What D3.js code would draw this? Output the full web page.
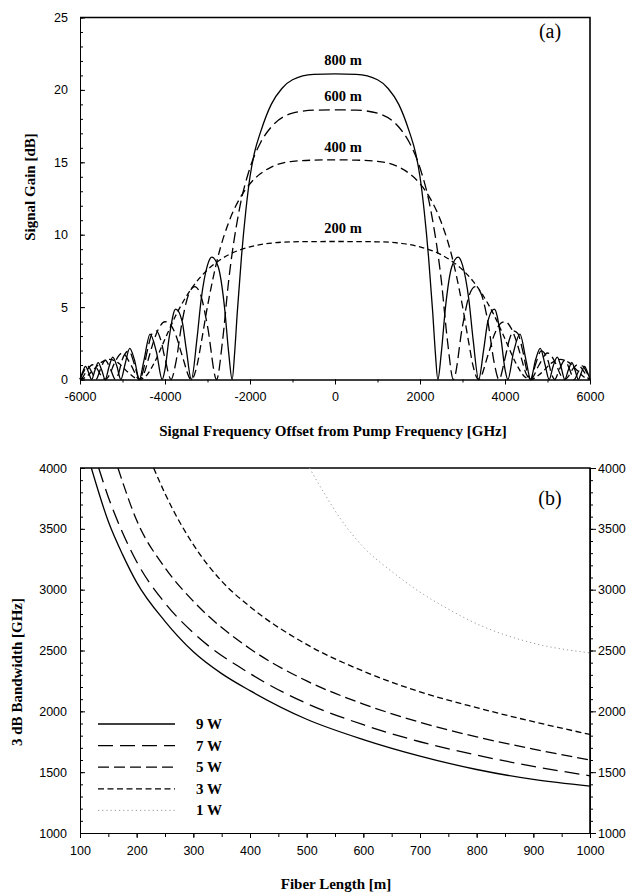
<!DOCTYPE html>
<html>
<head>
<meta charset="utf-8">
<script src="https://cdn.jsdelivr.net/npm/d3@7"></script>
<style>
body { margin: 0; background: #fff; }
</style>
</head>
<body>
<svg id="chart" width="633" height="895"></svg>
<script>
// ---- panel (a): signal gain [dB] vs. frequency offset [GHz]
const gain800 = [[-6000,0.02],[-5940,0.5],[-5870,0.9],[-5800,0.5],[-5726,0],[-5650,0.62],[-5572,1.16],[-5490,0.65],[-5407,0],
  [-5320,0.85],[-5230,1.55],[-5130,0.9],[-5039,0],[-4940,1.05],[-4830,2.15],[-4720,1.37],[-4602,0],[-4500,1.25],[-4350,3.13],
  [-4200,1.87],[-4067,0],[-4000,0.7],[-3900,2.94],[-3750,4.86],[-3600,4.06],[-3500,2.1],[-3380,0],[-3250,2.75],[-3150,5.5],
  [-3000,7.9],[-2900,8.45],[-2750,7.8],[-2600,5.0],[-2500,1.8],[-2420,0],[-2360,1.9],[-2300,4.6],[-2200,8.5],[-2100,11.6],
  [-2000,14.0],[-1900,15.6],[-1750,17.1],[-1500,19.0],[-1250,20.1],[-1000,20.7],[-500,21.07],[0,21.1],
  [500,21.07],[1000,20.7],[1250,20.1],[1500,19.0],[1750,17.1],[1900,15.6],[2000,14.0],[2100,11.6],[2200,8.5],[2300,4.6],
  [2360,1.9],[2420,0],[2500,1.8],[2600,5.0],[2750,7.8],[2900,8.45],[3000,7.9],[3150,5.5],[3250,2.75],[3380,0],[3500,2.1],
  [3600,4.06],[3750,4.86],[3900,2.94],[4000,0.7],[4067,0],[4200,1.87],[4350,3.13],[4500,1.25],[4602,0],[4720,1.37],
  [4830,2.15],[4940,1.05],[5039,0],[5130,0.9],[5230,1.55],[5320,0.85],[5407,0],[5490,0.65],[5572,1.16],[5650,0.62],
  [5726,0],[5800,0.5],[5870,0.9],[5940,0.5],[6000,0.02]];

const gain600 = [[-6000,0.02],[-5920,0.5],[-5823,0.94],[-5720,0.5],[-5625,0],[-5520,0.7],[-5407,1.33],[-5280,0.7],[-5168,0],
  [-5100,0.34],[-5000,1.42],[-4850,1.98],[-4720,1.05],[-4602,0],[-4520,0.53],[-4420,1.94],[-4300,3.18],[-4200,3.36],
  [-4100,2.73],[-4000,1.46],[-3858,0],[-3750,1.09],[-3600,3.94],[-3450,5.83],[-3300,6.42],[-3150,5.74],[-3000,3.69],
  [-2785,0],[-2650,2.57],[-2500,6.88],[-2250,11.75],[-2000,14.62],[-1750,16.37],[-1500,17.44],[-1000,18.39],[-500,18.6],
  [0,18.62],[500,18.6],[1000,18.39],[1500,17.44],[1750,16.37],[2000,14.62],[2250,11.75],[2500,6.88],[2650,2.57],[2785,0],
  [3000,3.69],[3150,5.74],[3300,6.42],[3450,5.83],[3600,3.94],[3750,1.09],[3858,0],[4000,1.46],[4100,2.73],[4200,3.36],
  [4300,3.18],[4420,1.94],[4520,0.53],[4602,0],[4720,1.05],[4850,1.98],[5000,1.42],[5100,0.34],[5168,0],[5280,0.7],
  [5407,1.33],[5520,0.7],[5625,0],[5720,0.5],[5823,0.94],[5920,0.5],[6000,0.02]];

const gain400 = [[-6000,0.02],[-5950,0.1],[-5850,0.58],[-5700,1.02],[-5600,0.75],[-5500,0.25],[-5407,0],[-5300,0.36],
  [-5200,1.06],[-5000,1.83],[-4800,1.0],[-4602,0],[-4500,0.38],[-4350,1.84],[-4250,2.8],[-4150,3.51],[-4000,3.99],
  [-3900,3.88],[-3750,3.11],[-3600,1.69],[-3380,0],[-3250,0.92],[-3150,2.5],[-3000,5.06],[-2750,8.51],[-2500,10.86],
  [-2250,12.46],[-2000,13.52],[-1750,14.22],[-1500,14.67],[-1000,15.07],[-500,15.15],[0,15.17],
  [500,15.15],[1000,15.07],[1500,14.67],[1750,14.22],[2000,13.52],[2250,12.46],[2500,10.86],[2750,8.51],[3000,5.06],
  [3150,2.5],[3250,0.92],[3380,0],[3600,1.69],[3750,3.11],[3900,3.88],[4000,3.99],[4150,3.51],[4250,2.8],[4350,1.84],
  [4500,0.38],[4602,0],[4800,1.0],[5000,1.83],[5200,1.06],[5300,0.36],[5407,0],[5500,0.25],[5600,0.75],[5700,1.02],
  [5850,0.58],[5950,0.1],[6000,0.02]];

const gain200 = [[-6000,0],[-5850,0.19],[-5700,0.62],[-5500,1.18],[-5300,1.39],[-5100,1.15],[-4850,0.44],[-4602,0],
  [-4450,0.23],[-4250,1.16],[-4000,2.8],[-3750,4.4],[-3500,5.73],[-3250,6.78],[-3000,7.58],[-2750,8.17],[-2500,8.62],
  [-2000,9.16],[-1500,9.42],[-1000,9.51],[0,9.53],[1000,9.51],[1500,9.42],[2000,9.16],[2500,8.62],[2750,8.17],
  [3000,7.58],[3250,6.78],[3500,5.73],[3750,4.4],[4000,2.8],[4250,1.16],[4450,0.23],[4602,0],[4850,0.44],[5100,1.15],
  [5300,1.39],[5500,1.18],[5700,0.62],[5850,0.19],[6000,0]];

const lengthNames = ["800 m", "600 m", "400 m", "200 m"];
const lengthLabelGain = [21.7, 19.2, 15.7, 10.1];
const offsetTicks = [-6000, -4000, -2000, 0, 2000, 4000, 6000];
const gainTicks = [0, 5, 10, 15, 20, 25];

// ---- panel (b): 3 dB bandwidth [GHz] vs. fiber length [m]
const bw9W = [[120,4000],[150,3560],[175,3290],[200,3060],[250,2740],[300,2490],[350,2310],[400,2170],[500,1935],
  [600,1768],[700,1632],[800,1522],[900,1440],[1000,1385]];
const bw7W = [[133,4000],[150,3760],[175,3470],[200,3230],[250,2890],[300,2645],[400,2310],[500,2065],[600,1890],
  [700,1750],[800,1640],[900,1548],[1000,1470]];
const bw5W = [[167,4000],[200,3570],[250,3180],[300,2905],[400,2515],[500,2250],[600,2060],[700,1910],[800,1790],
  [900,1690],[1000,1600]];
const bw3W = [[230,4000],[250,3790],[300,3370],[350,3070],[400,2860],[500,2550],[600,2330],[700,2160],[800,2030],
  [900,1915],[1000,1810]];
const bw1W = [[505,4000],[530,3800],[560,3580],[600,3350],[650,3150],[700,2980],[750,2840],[800,2720],[900,2560],
  [1000,2480]];

const powerNames = ["9 W", "7 W", "5 W", "3 W", "1 W"];
const lengthTicks = [100, 200, 300, 400, 500, 600, 700, 800, 900, 1000];
const bandwidthTicks = [1000, 1500, 2000, 2500, 3000, 3500, 4000];

const sansFont = "'Liberation Sans', Arial, sans-serif";
const serifFont = "'Liberation Serif', 'Times New Roman', serif";

const svg = d3.select("#chart");
svg.append("rect").attr("width", 633).attr("height", 895).attr("fill", "#fff");

function styleTicks(g) {
  g.selectAll("text").attr("font-family", sansFont).attr("font-size", 12.5).attr("fill", "#000");
  g.selectAll("line").attr("stroke", "#000");
  g.select(".domain").attr("stroke", "#000");
}

function drawFrame(x0, x1, y0, y1) {
  svg.append("path")
    .attr("d", `M${x0},${y0}H${x1}V${y1}`)
    .attr("fill", "none").attr("stroke", "#000").attr("stroke-width", 1.6);
}

// ---------------- panel (a)
const xA = d3.scaleLinear().domain([-6000, 6000]).range([80, 590]);
const yA = d3.scaleLinear().domain([0, 25]).range([379.5, 17.5]);

svg.append("g").attr("transform", "translate(0,379.5)")
  .call(d3.axisBottom(xA).tickValues(d3.range(-6000, 6001, 1000)).tickSize(3).tickSizeOuter(0).tickFormat(""))
  .call(styleTicks);
svg.append("g").attr("transform", "translate(0,379.5)")
  .call(d3.axisBottom(xA).tickValues(offsetTicks).tickSize(5).tickSizeOuter(0).tickPadding(8).tickFormat(d => String(d)))
  .call(styleTicks);
svg.append("g").attr("transform", "translate(80,0)")
  .call(d3.axisLeft(yA).tickValues(d3.range(0, 26, 1)).tickSize(-3).tickSizeOuter(0).tickFormat(""))
  .call(styleTicks);
svg.append("g").attr("transform", "translate(80,0)")
  .call(d3.axisLeft(yA).tickValues(gainTicks).tickSize(-5).tickSizeOuter(0).tickPadding(12).tickFormat(d => String(d)))
  .call(styleTicks);
drawFrame(80, 590, 17.5, 379.5);

const lineA = d3.line().x(d => xA(d[0])).y(d => yA(d[1])).curve(d3.curveMonotoneX);
const gainSeries = [
  { data: gain800, dash: null },
  { data: gain600, dash: "11,5" },
  { data: gain400, dash: "8,4.5" },
  { data: gain200, dash: "5.5,3.5" }
];
svg.append("g").selectAll("path")
  .data(gainSeries)
  .join("path")
  .attr("d", d => lineA(d.data))
  .attr("fill", "none")
  .attr("stroke", "#000")
  .attr("stroke-width", 1.3)
  .attr("stroke-dasharray", d => d.dash);

svg.append("g").selectAll("text")
  .data(lengthNames)
  .join("text")
  .attr("x", xA(0) + 8)
  .attr("y", (d, i) => yA(lengthLabelGain[i]))
  .attr("text-anchor", "middle")
  .attr("font-family", serifFont)
  .attr("font-weight", "bold")
  .attr("font-size", 14.5)
  .text(d => d);

svg.append("text")
  .attr("x", 550).attr("y", 38)
  .attr("text-anchor", "middle")
  .attr("font-family", serifFont)
  .attr("font-size", 20)
  .text("(a)");

svg.append("text")
  .attr("transform", "translate(35,187) rotate(-90)")
  .attr("text-anchor", "middle")
  .attr("font-family", serifFont)
  .attr("font-weight", "bold")
  .attr("font-size", 15)
  .text("Signal Gain [dB]");

svg.append("text")
  .attr("x", 333).attr("y", 436)
  .attr("text-anchor", "middle")
  .attr("font-family", serifFont)
  .attr("font-weight", "bold")
  .attr("font-size", 15)
  .text("Signal Frequency Offset from Pump Frequency [GHz]");

// ---------------- panel (b)
const xB = d3.scaleLinear().domain([100, 1000]).range([80, 590]);
const yB = d3.scaleLinear().domain([1000, 4000]).range([833, 468]);

svg.append("g").attr("transform", "translate(0,833)")
  .call(d3.axisBottom(xB).tickValues(d3.range(100, 1001, 50)).tickSize(4).tickSizeOuter(0).tickFormat(""))
  .call(styleTicks);
svg.append("g").attr("transform", "translate(0,833)")
  .call(d3.axisBottom(xB).tickValues(lengthTicks).tickSize(5).tickSizeOuter(0).tickPadding(8).tickFormat(d => String(d)))
  .call(styleTicks);
svg.append("g").attr("transform", "translate(80,0)")
  .call(d3.axisLeft(yB).tickValues(d3.range(1000, 4001, 100)).tickSize(-3).tickSizeOuter(0).tickFormat(""))
  .call(styleTicks);
svg.append("g").attr("transform", "translate(80,0)")
  .call(d3.axisLeft(yB).tickValues(bandwidthTicks).tickSize(-5).tickSizeOuter(0).tickPadding(13).tickFormat(d => String(d)))
  .call(styleTicks);
svg.append("g").attr("transform", "translate(590,0)")
  .call(d3.axisRight(yB).tickValues(d3.range(1000, 4001, 100)).tickSize(3).tickSizeOuter(0).tickFormat(""))
  .call(styleTicks);
svg.append("g").attr("transform", "translate(590,0)")
  .call(d3.axisRight(yB).tickValues(bandwidthTicks).tickSize(6).tickSizeOuter(0).tickPadding(2).tickFormat(d => String(d)))
  .call(styleTicks);
drawFrame(80, 590, 468, 833);

const lineB = d3.line().x(d => xB(d[0])).y(d => yB(d[1])).curve(d3.curveMonotoneX);
const powerSeries = [
  { data: bw9W, dash: null, color: "#000", width: 1.3 },
  { data: bw7W, dash: "15,7", color: "#000", width: 1.3 },
  { data: bw5W, dash: "11,5", color: "#000", width: 1.3 },
  { data: bw3W, dash: "6,3.5", color: "#000", width: 1.3 },
  { data: bw1W, dash: "1.2,3", color: "#999", width: 1 }
];
svg.append("g").selectAll("path")
  .data(powerSeries)
  .join("path")
  .attr("d", d => lineB(d.data))
  .attr("fill", "none")
  .attr("stroke", d => d.color)
  .attr("stroke-width", d => d.width)
  .attr("stroke-dasharray", d => d.dash);

const legend = svg.append("g").attr("transform", "translate(98,724)");
const legendRows = legend.selectAll("g")
  .data(powerSeries)
  .join("g")
  .attr("transform", (d, i) => `translate(0,${i * 21.6})`);
legendRows.append("line")
  .attr("x1", 0).attr("x2", 77)
  .attr("stroke", d => d.color)
  .attr("stroke-width", d => d.width)
  .attr("stroke-dasharray", d => d.dash);
legendRows.append("text")
  .attr("x", 98).attr("y", 5)
  .attr("font-family", serifFont)
  .attr("font-weight", "bold")
  .attr("font-size", 15)
  .text((d, i) => powerNames[i]);

svg.append("text")
  .attr("x", 550).attr("y", 505)
  .attr("text-anchor", "middle")
  .attr("font-family", serifFont)
  .attr("font-size", 20)
  .text("(b)");

svg.append("text")
  .attr("transform", "translate(22,672) rotate(-90)")
  .attr("text-anchor", "middle")
  .attr("font-family", serifFont)
  .attr("font-weight", "bold")
  .attr("font-size", 15)
  .text("3 dB Bandwidth [GHz]");

svg.append("text")
  .attr("x", 336).attr("y", 889)
  .attr("text-anchor", "middle")
  .attr("font-family", serifFont)
  .attr("font-weight", "bold")
  .attr("font-size", 15)
  .text("Fiber Length [m]");
</script>
</body>
</html>
